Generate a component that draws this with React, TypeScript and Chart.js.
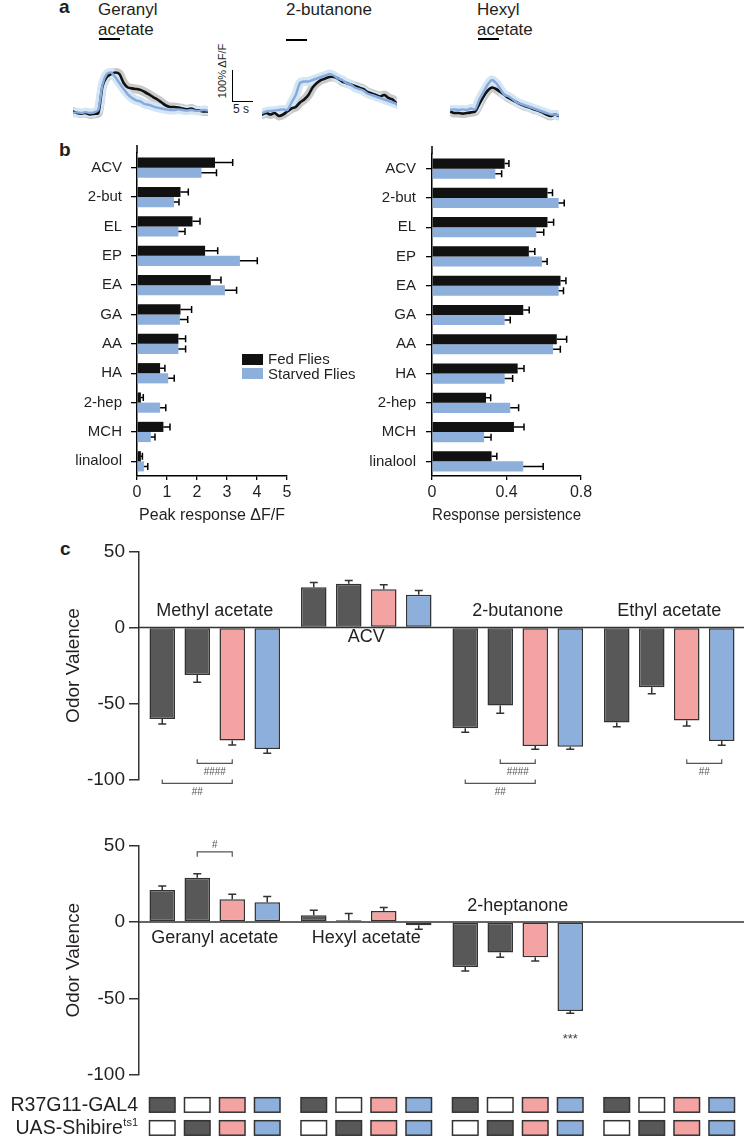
import React, { useEffect, useRef } from "react";
import { Chart, registerables } from "chart.js";

Chart.register(...registerables);

const FONT = "'Liberation Sans', Arial, Helvetica, sans-serif";
const INK = "#231f20";
const AXIS = "#333333";
Chart.defaults.font.family = FONT;
Chart.defaults.color = INK;

// ---------------- Panel a: mean ΔF/F traces, one sample per second ----------------
const traceSampleSeconds = 1;
const gaFedTrace = [0.05, 0.0, -0.02, 0.0, -0.05, -0.03, 0.0, 0.9, 1.2, 1.3, 1.35, 1.3, 1.0, 0.85, 0.82, 0.8, 0.77, 0.7, 0.62, 0.53, 0.45, 0.35, 0.25, 0.2, 0.2, 0.18, 0.15, 0.12, 0.15, 0.1, 0.08, 0.05, 0.05];
const gaStarvedTrace = [0.0, 0.02, 0.0, 0.03, 0.0, 0.02, 0.1, 0.95, 1.3, 1.35, 1.2, 1.0, 0.8, 0.62, 0.5, 0.42, 0.38, 0.3, 0.27, 0.22, 0.18, 0.15, 0.12, 0.1, 0.1, 0.12, 0.1, 0.08, 0.1, 0.08, 0.07, 0.1, 0.08];
const butFedTrace = [-0.05, 0.0, -0.05, 0.0, -0.1, -0.05, 0.05, 0.15, 0.2, 0.35, 0.45, 0.6, 0.85, 1.0, 1.1, 1.15, 1.2, 1.2, 1.15, 1.05, 1.0, 0.95, 0.9, 0.85, 0.8, 0.7, 0.65, 0.6, 0.55, 0.6, 0.5, 0.45, 0.3];
const butStarvedTrace = [0.0, 0.05, 0.07, 0.08, 0.1, 0.12, 0.1, 0.35, 0.6, 1.0, 1.05, 1.05, 1.1, 1.15, 1.2, 1.25, 1.3, 1.25, 1.15, 1.1, 1.0, 0.95, 0.85, 0.8, 0.75, 0.65, 0.6, 0.55, 0.5, 0.45, 0.4, 0.35, 0.3];
const haFedTrace = [0.05, 0.0, 0.0, -0.02, 0.0, 0.02, 0.05, 0.3, 0.55, 0.75, 0.85, 0.8, 0.7, 0.6, 0.5, 0.42, 0.35, 0.28, 0.22, 0.18, 0.12, 0.08, 0.02, -0.05, -0.1, -0.05, -0.1];
const haStarvedTrace = [0.1, 0.12, 0.1, 0.12, 0.1, 0.15, 0.12, 0.45, 0.7, 0.95, 1.1, 1.0, 0.8, 0.6, 0.55, 0.45, 0.35, 0.3, 0.25, 0.2, 0.15, 0.1, 0.05, 0.0, -0.05, -0.05, -0.08];

// ---------------- Panel b ----------------
const bCategories = ["ACV", "2-but", "EL", "EP", "EA", "GA", "AA", "HA", "2-hep", "MCH", "linalool"];
const peakFed = [2.6, 1.45, 1.85, 2.27, 2.46, 1.45, 1.38, 0.77, 0.13, 0.88, 0.13];
const peakFedSem = [0.59, 0.26, 0.25, 0.42, 0.34, 0.37, 0.24, 0.16, 0.08, 0.22, 0.05];
const peakStarved = [2.15, 1.23, 1.38, 3.43, 2.93, 1.43, 1.38, 1.04, 0.77, 0.46, 0.23];
const peakStarvedSem = [0.5, 0.17, 0.22, 0.58, 0.39, 0.26, 0.24, 0.2, 0.19, 0.14, 0.13];
const persistFed = [0.39, 0.62, 0.62, 0.52, 0.69, 0.49, 0.67, 0.46, 0.29, 0.44, 0.32];
const persistFedSem = [0.023, 0.027, 0.033, 0.032, 0.029, 0.032, 0.053, 0.034, 0.025, 0.054, 0.028];
const persistStarved = [0.34, 0.68, 0.56, 0.59, 0.68, 0.39, 0.65, 0.39, 0.42, 0.28, 0.49];
const persistStarvedSem = [0.034, 0.03, 0.04, 0.028, 0.026, 0.03, 0.039, 0.043, 0.045, 0.037, 0.107];
const peakTicks = [0, 1, 2, 3, 4, 5];
const persistTicks = [0, 0.4, 0.8];

// ---------------- Panel c ----------------
const genotypeNames = ["R37G11-GAL4 / +", "+ / UAS-Shibire ts1", "R37G11 > Shibire ts1 (pink)", "R37G11 > Shibire ts1 (blue)"];
const topOdors = ["Methyl acetate", "ACV", "2-butanone", "Ethyl acetate"];
const topGal4Ctrl = [-60.2, 26.6, -66.4, -62.6];
const topGal4CtrlSem = [3.3, 3.1, 2.6, 2.7];
const topUasCtrl = [-31.2, 28.8, -51.4, -39.3];
const topUasCtrlSem = [4.8, 2.2, 5.1, 4.4];
const topPink = [-74.5, 25.3, -78.0, -61.3];
const topPinkSem = [2.9, 2.9, 2.2, 3.5];
const topBlue = [-80.0, 21.6, -78.5, -74.7];
const topBlueSem = [2.9, 2.8, 1.7, 2.8];

const bottomOdors = ["Geranyl acetate", "Hexyl acetate", "2-heptanone", ""];
const botGal4Ctrl = [20.9, 4.4, -29.4, null];
const botGal4CtrlSem = [2.6, 3.2, 2.6, null];
const botUasCtrl = [28.8, 1.1, -20.0, null];
const botUasCtrlSem = [2.6, 4.4, 3.0, null];
const botPink = [14.8, 7.2, -23.0, null];
const botPinkSem = [3.3, 2.2, 2.5, null];
const botBlue = [12.9, -2.2, -58.2, null];
const botBlueSem = [3.7, 2.6, 1.5, null];
const valenceTicks = [50, 0, -50, -100];

const topBrackets = [
  { odor: 0, from: 1, to: 2, text: "####", row: 0 },
  { odor: 0, from: 0, to: 2, text: "##", row: 1 },
  { odor: 2, from: 1, to: 2, text: "####", row: 0 },
  { odor: 2, from: 0, to: 2, text: "##", row: 1 },
  { odor: 3, from: 2, to: 3, text: "##", row: 0 },
];
const bottomBrackets = [{ odor: 0, from: 1, to: 2, text: "#", row: 0 }];
const bottomStars = [{ odor: 2, bar: 3, text: "***" }];

const tableGal4 = [true, false, true, true];
const tableUas = [false, true, true, true];
const tableRowNames = ["R37G11-GAL4", "UAS-Shibire"];
const tableRowSup = ["", "ts1"];

// ---------------- styles ----------------
const FED_BLACK = "#111111";
const STARVED_BLUE = "#8dafdc";
const GENO_COLORS = ["#585858", "#585858", "#f4a3a3", "#8dafdc"];
const C_CAT_PCT = 0.924;
const C_BAR_PCT = 0.73;

function ChartBox({ left, top, width, height, make }: any) {
  const ref = useRef<HTMLCanvasElement | null>(null);
  useEffect(() => {
    const chart = new Chart(ref.current as HTMLCanvasElement, make());
    return () => chart.destroy();
  }, []);
  return (
    <canvas
      ref={ref}
      width={width}
      height={height}
      style={{ position: "absolute", left, top, width, height }}
    />
  );
}

const basePlugins = { legend: { display: false }, tooltip: { enabled: false } };

function traceConfig(fed: number[], starved: number[]): any {
  const pts = (arr: number[]) => arr.map((v, i) => ({ x: i * traceSampleSeconds, y: v }));
  const line = (arr: number[], color: string, w: number) => ({
    data: pts(arr),
    borderColor: color,
    borderWidth: w,
    pointRadius: 0,
    tension: 0.25,
    borderJoinStyle: "round",
    borderCapStyle: "round",
  });
  return {
    type: "line",
    data: {
      datasets: [
        line(starved, "#88a9dc", 2.4),
        line(fed, "#111111", 2.6),
        line(starved, "#d3e6f5", 9),
        line(fed, "#c9c9c9", 9),
      ],
    },
    options: {
      animation: false,
      responsive: false,
      events: [],
      layout: { padding: { left: 5, right: 5, top: 10, bottom: 10 } },
      plugins: basePlugins,
      scales: {
        x: { type: "linear", display: false, min: 0, max: (fed.length - 1) * traceSampleSeconds },
        y: { display: false, min: -0.3, max: 1.9 },
      },
    },
  };
}

const hErrorBars = {
  id: "hErrorBars",
  afterDatasetsDraw(chart: any) {
    const { ctx } = chart;
    const xs = chart.scales.x;
    chart.data.datasets.forEach((ds: any, di: number) => {
      const meta = chart.getDatasetMeta(di);
      meta.data.forEach((bar: any, j: number) => {
        const v = ds.data[j];
        const s = ds.sem[j];
        const x0 = xs.getPixelForValue(v);
        const x1 = xs.getPixelForValue(v + s);
        ctx.save();
        ctx.strokeStyle = "#000";
        ctx.lineWidth = 1.5;
        ctx.beginPath();
        ctx.moveTo(x0, bar.y);
        ctx.lineTo(x1, bar.y);
        ctx.moveTo(x1, bar.y - 3.5);
        ctx.lineTo(x1, bar.y + 3.5);
        ctx.stroke();
        ctx.restore();
      });
    });
  },
  afterDraw(chart: any) {
    const { ctx, chartArea: a } = chart;
    ctx.save();
    ctx.strokeStyle = "#000";
    ctx.lineWidth = 1.5;
    ctx.beginPath();
    ctx.moveTo(a.left, a.top - 8);
    ctx.lineTo(a.left, a.top);
    ctx.stroke();
    ctx.restore();
  },
};

function hbarConfig(fed: number[], fedSem: number[], starved: number[], starvedSem: number[], ticks: number[], title: string, yWidth: number, padRight: number, labelPad: number): any {
  return {
    type: "bar",
    data: {
      labels: bCategories,
      datasets: [
        { label: "Fed Flies", data: fed, sem: fedSem, backgroundColor: FED_BLACK, categoryPercentage: 0.69, barPercentage: 1 },
        { label: "Starved Flies", data: starved, sem: starvedSem, backgroundColor: STARVED_BLUE, categoryPercentage: 0.69, barPercentage: 1 },
      ],
    },
    options: {
      indexAxis: "y",
      animation: false,
      responsive: false,
      events: [],
      layout: { padding: { top: 18, right: padRight, left: 0, bottom: 0 } },
      plugins: basePlugins,
      scales: {
        x: {
          min: ticks[0],
          max: ticks[ticks.length - 1],
          afterBuildTicks: (s: any) => { s.ticks = ticks.map((v) => ({ value: v })); },
          ticks: { color: INK, font: { size: 16 }, padding: 3, maxRotation: 0 },
          grid: { drawOnChartArea: false, tickLength: 4, color: "#000", lineWidth: 1.3 },
          border: { color: "#000", width: 1.5 },
          title: { display: true, text: title, color: INK, font: { size: 16 }, padding: { top: 0, bottom: 5 } },
          afterFit: (s: any) => { s.height = 54; },
        },
        y: {
          ticks: { color: INK, font: { size: 15 }, padding: labelPad, autoSkip: false },
          grid: { drawOnChartArea: false, offset: false, tickLength: 6, color: "#000", lineWidth: 1.3 },
          border: { color: "#000", width: 1.5 },
          afterFit: (s: any) => { s.width = yWidth; },
        },
      },
    },
    plugins: [hErrorBars],
  };
}

function slotX(chart: any, g: number, i: number) {
  const a = chart.chartArea;
  const cat = (a.right - a.left) / chart.data.labels.length;
  const slot = (cat * C_CAT_PCT) / 4;
  return chart.scales.x.getPixelForValue(g) + (i - 1.5) * slot;
}

function valencePlugin(cfg: any) {
  return {
    id: "valenceDecor",
    beforeDatasetsDraw(chart: any) {
      const { ctx, chartArea: a, scales } = chart;
      const y0 = scales.y.getPixelForValue(0);
      ctx.save();
      ctx.strokeStyle = AXIS;
      ctx.lineWidth = 1.5;
      ctx.beginPath();
      ctx.moveTo(a.left, y0);
      ctx.lineTo(a.right, y0);
      ctx.stroke();
      ctx.restore();
    },
    afterDatasetsDraw(chart: any) {
      const { ctx, chartArea: a, scales } = chart;
      const ys = scales.y;
      const y0 = ys.getPixelForValue(0);
      ctx.save();
      // error bars
      ctx.strokeStyle = AXIS;
      ctx.lineWidth = 1.5;
      chart.data.datasets.forEach((ds: any, di: number) => {
        ds.data.forEach((v: any, g: number) => {
          if (v == null) return;
          const s = ds.sem[g];
          const x = slotX(chart, g, di);
          const yv = ys.getPixelForValue(v);
          const ye = ys.getPixelForValue(v + (v >= 0 ? s : -s));
          ctx.beginPath();
          ctx.moveTo(x, yv);
          ctx.lineTo(x, ye);
          ctx.moveTo(x - 4, ye);
          ctx.lineTo(x + 4, ye);
          ctx.stroke();
        });
      });
      // odor labels
      ctx.fillStyle = INK;
      ctx.font = `18px ${FONT}`;
      ctx.textAlign = "center";
      ctx.textBaseline = "middle";
      chart.data.labels.forEach((lab: string, g: number) => {
        if (!lab) return;
        ctx.fillText(lab, slotX(chart, g, 1.5), y0 + cfg.labelDy[g]);
      });
      // significance brackets
      cfg.brackets.forEach((b: any) => {
        const x1 = slotX(chart, b.odor, b.from);
        const x2 = slotX(chart, b.odor, b.to);
        const yl = ys.getPixelForValue(cfg.bracketRows[b.row]);
        ctx.strokeStyle = "#555";
        ctx.lineWidth = 1.2;
        ctx.beginPath();
        ctx.moveTo(x1, yl + cfg.tick);
        ctx.lineTo(x1, yl);
        ctx.lineTo(x2, yl);
        ctx.lineTo(x2, yl + cfg.tick);
        ctx.stroke();
        ctx.fillStyle = "#555";
        ctx.font = `10px ${FONT}`;
        ctx.fillText(b.text, (x1 + x2) / 2, yl + cfg.textDy);
      });
      // stars
      (cfg.stars || []).forEach((st: any) => {
        const ds = chart.data.datasets[st.bar];
        const v = ds.data[st.odor];
        const ye = ys.getPixelForValue(v - ds.sem[st.odor]);
        ctx.fillStyle = "#444";
        ctx.font = `13px ${FONT}`;
        ctx.fillText(st.text, slotX(chart, st.odor, st.bar), ye + 26);
      });
      // y title
      ctx.save();
      ctx.translate(74, (a.top + a.bottom) / 2);
      ctx.rotate(-Math.PI / 2);
      ctx.fillStyle = INK;
      ctx.font = `19px ${FONT}`;
      ctx.textAlign = "center";
      ctx.textBaseline = "middle";
      ctx.fillText("Odor Valence", 0, 0);
      ctx.restore();
      // genotype table
      if (cfg.table) {
        const rows = [tableGal4, tableUas];
        const cat = (a.right - a.left) / chart.data.labels.length;
        const w = ((cat * C_CAT_PCT) / 4) * C_BAR_PCT;
        const h = 14.5;
        const tops = [a.bottom + 22.7, a.bottom + 45.7];
        rows.forEach((row, r) => {
          for (let g = 0; g < chart.data.labels.length; g++) {
            for (let i = 0; i < 4; i++) {
              const cx = slotX(chart, g, i);
              ctx.fillStyle = row[i] ? GENO_COLORS[i] : "#ffffff";
              ctx.fillRect(cx - w / 2, tops[r], w, h);
              ctx.strokeStyle = AXIS;
              ctx.lineWidth = 1.5;
              ctx.strokeRect(cx - w / 2, tops[r], w, h);
            }
          }
          const cy = tops[r] + h / 2 + 0.5;
          ctx.fillStyle = INK;
          ctx.textBaseline = "middle";
          let right = 138;
          if (tableRowSup[r]) {
            ctx.font = `11px ${FONT}`;
            const sw = ctx.measureText(tableRowSup[r]).width;
            ctx.textAlign = "left";
            ctx.fillText(tableRowSup[r], right - sw, cy - 5);
            right -= sw + 0.5;
          }
          ctx.font = `19.5px ${FONT}`;
          ctx.textAlign = "right";
          ctx.fillText(tableRowNames[r], right, cy);
        });
      }
      ctx.restore();
    },
  };
}

function valenceConfig(labels: string[], series: any[][], sems: any[][], padTop: number, padBottom: number, cfg: any): any {
  return {
    type: "bar",
    data: {
      labels,
      datasets: series.map((s, i) => ({
        label: genotypeNames[i],
        data: s,
        sem: sems[i],
        backgroundColor: GENO_COLORS[i],
        borderColor: AXIS,
        borderWidth: 1.5,
        borderSkipped: false,
        categoryPercentage: C_CAT_PCT,
        barPercentage: C_BAR_PCT,
      })),
    },
    options: {
      animation: false,
      responsive: false,
      events: [],
      layout: { padding: { top: padTop, bottom: padBottom, left: 0, right: 0 } },
      plugins: basePlugins,
      scales: {
        x: { display: false },
        y: {
          min: -100,
          max: 50,
          afterBuildTicks: (s: any) => { s.ticks = valenceTicks.map((v) => ({ value: v })); },
          ticks: { color: INK, font: { size: 19 }, padding: 4 },
          grid: { drawOnChartArea: false, tickLength: 10, color: AXIS, lineWidth: 1.5 },
          border: { color: AXIS, width: 1.5 },
          afterFit: (s: any) => { s.width = 139; },
        },
      },
    },
    plugins: [valencePlugin(cfg)],
  };
}

const abs = (extra: any) => ({ position: "absolute", whiteSpace: "nowrap", ...extra });

export default function App() {
  return (
    <div
      style={{
        position: "absolute",
        left: 0,
        top: 0,
        width: 744,
        height: 1137,
        overflow: "hidden",
        background: "#fff",
        fontFamily: FONT,
        color: INK,
      }}
    >
      {/* panel a */}
      <div style={abs({ left: 59, top: -4, fontSize: 19, fontWeight: "bold", lineHeight: "22px" })}>a</div>
      <div style={abs({ left: 98, top: 0, fontSize: 17, lineHeight: "19.5px" })}>Geranyl<br />acetate</div>
      <div style={abs({ left: 99, top: 38, width: 21, height: 2, background: "#000" })} />
      <div style={abs({ left: 286, top: 0, fontSize: 17, lineHeight: "19.5px" })}>2-butanone</div>
      <div style={abs({ left: 286, top: 39, width: 21, height: 2, background: "#000" })} />
      <div style={abs({ left: 477, top: 0, fontSize: 17, lineHeight: "19.5px" })}>Hexyl<br />acetate</div>
      <div style={abs({ left: 478, top: 38, width: 21, height: 2, background: "#000" })} />
      <div style={abs({ left: 231.5, top: 70, width: 1.5, height: 32, background: "#000" })} />
      <div style={abs({ left: 231.5, top: 100.5, width: 21.5, height: 1.5, background: "#000" })} />
      <div style={abs({ left: 222, top: 71, fontSize: 11, lineHeight: "12px", transform: "translate(-50%, -50%) rotate(-90deg)" })}>100% ΔF/F</div>
      <div style={abs({ left: 233, top: 103, fontSize: 12, lineHeight: "12px" })}>5 s</div>
      <ChartBox left={68} top={46} width={145} height={86} make={() => traceConfig(gaFedTrace, gaStarvedTrace)} />
      <ChartBox left={257} top={46} width={145} height={86} make={() => traceConfig(butFedTrace, butStarvedTrace)} />
      <ChartBox left={445} top={46} width={119} height={86} make={() => traceConfig(haFedTrace, haStarvedTrace)} />

      {/* panel b */}
      <div style={abs({ left: 59, top: 139, fontSize: 19, fontWeight: "bold", lineHeight: "22px" })}>b</div>
      <ChartBox
        left={40}
        top={135}
        width={270}
        height={395}
        make={() => hbarConfig(peakFed, peakFedSem, peakStarved, peakStarvedSem, peakTicks, "Peak response ΔF/F", 97, 23, 9)}
      />
      <ChartBox
        left={340}
        top={135}
        width={270}
        height={395}
        make={() => hbarConfig(persistFed, persistFedSem, persistStarved, persistStarvedSem, persistTicks, "Response persistence", 92, 29, 10)}
      />
      <div style={abs({ left: 242, top: 354, width: 21, height: 11, background: FED_BLACK })} />
      <div style={abs({ left: 242, top: 368, width: 21, height: 11, background: STARVED_BLUE })} />
      <div style={abs({ left: 268, top: 352, fontSize: 15, lineHeight: "14px" })}>Fed Flies</div>
      <div style={abs({ left: 268, top: 367, fontSize: 15, lineHeight: "14px" })}>Starved Flies</div>

      {/* panel c */}
      <div style={abs({ left: 60, top: 538, fontSize: 19, fontWeight: "bold", lineHeight: "22px" })}>c</div>
      <ChartBox
        left={0}
        top={535}
        width={745}
        height={265}
        make={() =>
          valenceConfig(
            topOdors,
            [topGal4Ctrl, topUasCtrl, topPink, topBlue],
            [topGal4CtrlSem, topUasCtrlSem, topPinkSem, topBlueSem],
            16.7,
            20.7,
            { labelDy: [-17, 9, -17, -17], brackets: topBrackets, bracketRows: [-89.5, -102.7], tick: -4, textDy: 8.5 }
          )
        }
      />
      <ChartBox
        left={0}
        top={830}
        width={745}
        height={307}
        make={() =>
          valenceConfig(
            bottomOdors,
            [botGal4Ctrl, botUasCtrl, botPink, botBlue],
            [botGal4CtrlSem, botUasCtrlSem, botPinkSem, botBlueSem],
            15,
            62,
            { labelDy: [16, 16, -16, 0], brackets: bottomBrackets, bracketRows: [45.8], tick: 5, textDy: -7, stars: bottomStars, table: true }
          )
        }
      />
    </div>
  );
}
